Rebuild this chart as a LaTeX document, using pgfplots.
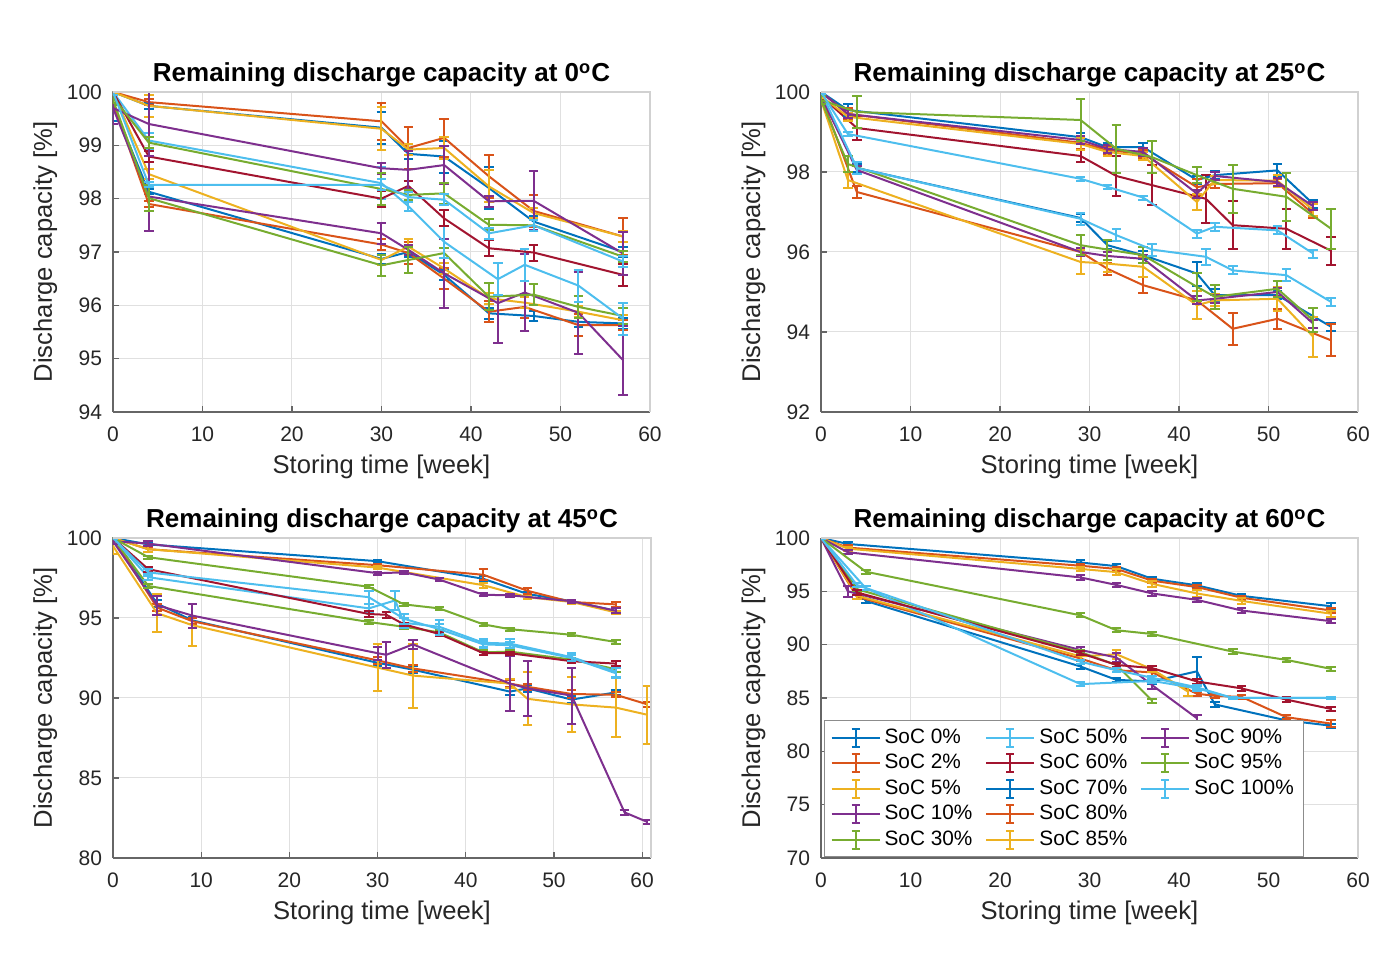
\documentclass[border=0pt]{standalone}
\usepackage{pgfplots}
\pgfplotsset{compat=1.18}
\usepackage{fontspec}
\setmainfont{Liberation Sans}
\definecolor{c1}{rgb}{0,0.447,0.741}
\definecolor{c2}{rgb}{0.85,0.325,0.098}
\definecolor{c3}{rgb}{0.929,0.694,0.125}
\definecolor{c4}{rgb}{0.494,0.184,0.556}
\definecolor{c5}{rgb}{0.466,0.674,0.188}
\definecolor{c6}{rgb}{0.301,0.745,0.933}
\definecolor{c7}{rgb}{0.635,0.078,0.184}
\pgfplotsset{
  ser/.style={draw=#1, line width=1pt, forget plot,
    error bars/.cd, y dir=both, y explicit,
    error bar style={draw=#1, line width=1pt},
    error mark options={rotate=90, draw=#1, mark size=2.4pt, line width=1pt}},
  mystyle/.style={
    scale only axis, width=268.5pt, height=160pt,
    xmin=0, xmax=60, xtick={0,10,...,60},
    grid=major, grid style={draw=black!12, line width=0.5pt},
    axis x line*=bottom, axis y line*=left,
    axis line style={-, draw=black!60, line width=0.6pt},
    tick align=inside, major tick length=3pt, tick style={draw=black!60, line width=0.6pt},
    /pgf/number format/assume math mode=true,
    ticklabel style={font=\fontsize{10.5}{12}\selectfont, text=black!85},
    xticklabel style={anchor=base, yshift=-15pt},
    yticklabel style={anchor=east, xshift=-2pt},
    every axis title/.style={at={(0.5,1)}, anchor=base, yshift=5pt, font=\bfseries\fontsize{13}{14}\selectfont},
    every axis x label/.style={at={(0.5,0)}, anchor=base, yshift=-31pt, font=\fontsize{12.8}{14}\selectfont, text=black!85},
    every axis y label/.style={at={(-0.1136,0.5)}, rotate=90, anchor=base, font=\fontsize{12.8}{14}\selectfont, text=black!85},
    xlabel={Storing time [week]}, ylabel={Discharge capacity [\%]},
    no markers,
    extra description/.code={\draw[black!18, line width=0.6pt] (rel axis cs:0,1) -- (rel axis cs:1,1) -- (rel axis cs:1,0);},
  },
}
\begin{document}
\begin{tikzpicture}
\useasboundingbox (0,0) rectangle (694pt,489pt);
% ---------------- 0 C
\begin{axis}[mystyle, at={(56.5pt,283pt)}, anchor=south west, ymin=94, ymax=100, ytick={94,95,...,100},
  title={Remaining discharge capacity at 0\textsuperscript{o}C}]
\addplot[ser=c1] coordinates {(0,99.75)+-(0,0.3) (4,98.13)+-(0,0.05) (30,96.87)+-(0,0.1) (33,97.0)+-(0,0.1) (37,96.57)+-(0,0.1) (42,95.85)+-(0,0.1) (47,95.8)+-(0,0.1) (52,95.69)+-(0,0.1) (57,95.66)+-(0,0.1)};
\addplot[ser=c2] coordinates {(0,99.8)+-(0,0.15) (4,97.9)+-(0,0.05) (30,97.14)+-(0,0.1) (33,96.98)+-(0,0.2) (37,96.5)+-(0,0.2) (42,95.88)+-(0,0.2) (46,95.97)+-(0,0.2) (52,95.63)+-(0,0.2) (57,95.63)+-(0,0.1)};
\addplot[ser=c3] coordinates {(0,100)+-(0,0.05) (4,98.46)+-(0,0.1) (30,96.85)+-(0,0.1) (33,97.1)+-(0,0.15) (37,96.69)+-(0,0.1) (42,96.13)+-(0,0.1) (46,96.05)+-(0,0.1) (52,95.88)+-(0,0.1) (57,95.72)+-(0,0.1)};
\addplot[ser=c4] coordinates {(0,99.7)+-(0,0.3) (4,98.04)+-(0,0.65) (30,97.35)+-(0,0.2) (33,97.04)+-(0,0.1) (37,96.6)+-(0,0.65) (43,96.04)+-(0,0.75) (46,96.24)+-(0,0.73) (52,95.86)+-(0,0.77) (57,94.97)+-(0,0.65)};
\addplot[ser=c5] coordinates {(0,99.85)+-(0,0.1) (4,98.01)+-(0,0.25) (30,96.75)+-(0,0.2) (33,96.85)+-(0,0.25) (37,96.98)+-(0,0.1) (42,96.16)+-(0,0.25) (47,96.2)+-(0,0.2) (52,95.97)+-(0,0.2) (57,95.8)+-(0,0.15)};
\addplot[ser=c6] coordinates {(0,100)+-(0,0.05) (4,99.09)+-(0,0.15) (30,98.29)+-(0,0.3) (33,97.86)+-(0,0.1) (37,97.19)+-(0,0.3) (43,96.49)+-(0,0.3) (46,96.76)+-(0,0.3) (52,96.37)+-(0,0.3) (57,95.75)+-(0,0.3)};
\addplot[ser=c7] coordinates {(0,100)+-(0,0.05) (4,98.79)+-(0,0.1) (30,98.0)+-(0,0.15) (33,98.24)+-(0,0.1) (37,97.63)+-(0,0.15) (42,97.07)+-(0,0.15) (47,96.99)+-(0,0.15) (57,96.57)+-(0,0.2)};
\addplot[ser=c1] coordinates {(0,100)+-(0,0.05) (4,99.74)+-(0,0.05) (30,99.33)+-(0,0.3) (33,98.84)+-(0,0.1) (37,98.79)+-(0,0.3) (42,98.2)+-(0,0.4) (47,97.57)+-(0,0.1) (57,97.0)+-(0,0.1)};
\addplot[ser=c2] coordinates {(0,100)+-(0,0.05) (4,99.81)+-(0,0.05) (30,99.45)+-(0,0.35) (33,98.95)+-(0,0.4) (37,99.14)+-(0,0.35) (42,98.42)+-(0,0.4) (47,97.77)+-(0,0.3) (57,97.29)+-(0,0.35)};
\addplot[ser=c3] coordinates {(0,100)+-(0,0.05) (4,99.74)+-(0,0.2) (30,99.31)+-(0,0.4) (33,98.92)+-(0,0.1) (37,98.95)+-(0,0.2) (42,98.23)+-(0,0.3) (47,97.73)+-(0,0.1) (57,97.29)+-(0,0.1)};
\addplot[ser=c4] coordinates {(0,99.7)+-(0,0.3) (4,99.4)+-(0,0.6) (30,98.57)+-(0,0.1) (33,98.54)+-(0,0.35) (37,98.63)+-(0,0.35) (42,97.95)+-(0,0.1) (47,97.96)+-(0,0.55) (57,96.97)+-(0,0.4)};
\addplot[ser=c5] coordinates {(0,99.9)+-(0,0.1) (4,99.05)+-(0,0.1) (30,98.18)+-(0,0.3) (33,98.07)+-(0,0.1) (37,98.1)+-(0,0.2) (42,97.51)+-(0,0.1) (47,97.5)+-(0,0.1) (57,96.91)+-(0,0.1)};
\addplot[ser=c6] coordinates {(0,100)+-(0,0.05) (4,98.26)+-(0,0.05) (30,98.26)+-(0,0.1) (33,98.03)+-(0,0.1) (37,97.98)+-(0,0.1) (42,97.35)+-(0,0.1) (47,97.5)+-(0,0.1) (57,96.82)+-(0,0.1)};
\end{axis}
% ---------------- 25 C
\begin{axis}[mystyle, at={(410.5pt,283pt)}, anchor=south west, ymin=92, ymax=100, ytick={92,94,...,100},
  title={Remaining discharge capacity at 25\textsuperscript{o}C}]
\addplot[ser=c1] coordinates {(0,99.9)+-(0,0.1) (4,98.1)+-(0,0.1) (29,96.85)+-(0,0.1) (32,96.17)+-(0,0.1) (36,95.92)+-(0,0.1) (42,95.46)+-(0,0.3) (44,94.92)+-(0,0.15) (51,94.92)+-(0,0.1) (57,94.13)+-(0,0.1)};
\addplot[ser=c2] coordinates {(0,99.9)+-(0,0.05) (4,97.5)+-(0,0.15) (29,96.0)+-(0,0.1) (32,95.58)+-(0,0.15) (36,95.17)+-(0,0.2) (42,94.79)+-(0,0.1) (46,94.08)+-(0,0.4) (51,94.33)+-(0,0.25) (57,93.79)+-(0,0.4)};
\addplot[ser=c3] coordinates {(0,99.8)+-(0,0.1) (3,97.8)+-(0,0.2) (29,95.75)+-(0,0.3) (32,95.71)+-(0,0.2) (36,95.63)+-(0,0.25) (42,94.67)+-(0,0.35) (44,94.79)+-(0,0.15) (51,94.83)+-(0,0.3) (55,93.88)+-(0,0.5)};
\addplot[ser=c4] coordinates {(0,99.9)+-(0,0.05) (4,98.05)+-(0,0.1) (29,96.0)+-(0,0.1) (32,95.9)+-(0,0.1) (36,95.83)+-(0,0.1) (42,94.79)+-(0,0.1) (44,94.83)+-(0,0.1) (51,95.0)+-(0,0.1) (55,94.21)+-(0,0.1)};
\addplot[ser=c5] coordinates {(0,99.8)+-(0,0.1) (3,98.2)+-(0,0.2) (29,96.17)+-(0,0.25) (32,96.06)+-(0,0.25) (36,95.92)+-(0,0.2) (42,95.13)+-(0,0.35) (44,94.88)+-(0,0.3) (51,95.08)+-(0,0.2) (55,94.29)+-(0,0.3)};
\addplot[ser=c6] coordinates {(0,100)+-(0,0.05) (4,98.1)+-(0,0.15) (29,96.83)+-(0,0.15) (33,96.42)+-(0,0.15) (37,96.06)+-(0,0.15) (43,95.88)+-(0,0.2) (46,95.54)+-(0,0.1) (52,95.42)+-(0,0.15) (57,94.75)+-(0,0.1)};
\addplot[ser=c7] coordinates {(0,99.9)+-(0,0.1) (4,99.1)+-(0,0.3) (29,98.4)+-(0,0.15) (33,97.9)+-(0,0.5) (37,97.67)+-(0,0.5) (43,97.33)+-(0,0.6) (46,96.67)+-(0,0.6) (52,96.58)+-(0,0.5) (57,96.03)+-(0,0.35)};
\addplot[ser=c1] coordinates {(0,100)+-(0,0.05) (3,99.55)+-(0,0.15) (29,98.87)+-(0,0.1) (32,98.62)+-(0,0.1) (36,98.62)+-(0,0.1) (42,97.8)+-(0,0.1) (44,97.92)+-(0,0.1) (51,98.04)+-(0,0.15) (55,97.2)+-(0,0.1)};
\addplot[ser=c2] coordinates {(0,100)+-(0,0.05) (3,99.45)+-(0,0.15) (29,98.73)+-(0,0.15) (32,98.55)+-(0,0.1) (36,98.45)+-(0,0.1) (42,97.62)+-(0,0.2) (44,97.7)+-(0,0.1) (51,97.72)+-(0,0.1) (55,96.95)+-(0,0.1)};
\addplot[ser=c3] coordinates {(0,99.9)+-(0,0.05) (3,99.38)+-(0,0.1) (29,98.7)+-(0,0.15) (32,98.5)+-(0,0.1) (36,98.4)+-(0,0.1) (42,97.25)+-(0,0.2) (44,97.8)+-(0,0.1) (51,97.78)+-(0,0.15) (55,97.05)+-(0,0.15)};
\addplot[ser=c4] coordinates {(0,100)+-(0,0.05) (3,99.45)+-(0,0.1) (29,98.8)+-(0,0.1) (32,98.58)+-(0,0.1) (36,98.5)+-(0,0.1) (42,97.46)+-(0,0.1) (44,97.9)+-(0,0.1) (51,97.75)+-(0,0.1) (55,97.14)+-(0,0.1)};
\addplot[ser=c5] coordinates {(0,99.8)+-(0,0.1) (4,99.5)+-(0,0.4) (29,99.3)+-(0,0.52) (33,98.58)+-(0,0.6) (37,98.37)+-(0,0.4) (42,97.92)+-(0,0.2) (46,97.58)+-(0,0.6) (52,97.38)+-(0,0.6) (57,96.58)+-(0,0.5)};
\addplot[ser=c6] coordinates {(0,100)+-(0,0.05) (3,98.95)+-(0,0.05) (29,97.83)+-(0,0.05) (32,97.63)+-(0,0.05) (36,97.36)+-(0,0.05) (42,96.46)+-(0,0.1) (44,96.63)+-(0,0.1) (51,96.54)+-(0,0.1) (55,95.96)+-(0,0.1)};
\end{axis}
% ---------------- 45 C
\begin{axis}[mystyle, at={(56.5pt,60pt)}, anchor=south west, width=269pt, xmax=61, ymin=80, ymax=100, ytick={80,85,...,100},
  title={Remaining discharge capacity at 45\textsuperscript{o}C}]
\addplot[ser=c1] coordinates {(0,100)+-(0,0.05) (5,95.9)+-(0,0.2) (9,94.85)+-(0,0.2) (30,92.2)+-(0,0.2) (34,91.77)+-(0,0.2) (45,90.4)+-(0,0.2) (47,90.6)+-(0,0.2) (52,89.9)+-(0,0.2) (57,90.35)+-(0,0.15)};
\addplot[ser=c2] coordinates {(0,100)+-(0,0.05) (5,95.65)+-(0,0.2) (9,94.8)+-(0,0.2) (30,92.35)+-(0,0.2) (34,91.85)+-(0,0.2) (45,90.9)+-(0,0.2) (47,90.7)+-(0,0.2) (52,90.25)+-(0,0.25) (57,90.2)+-(0,0.15) (60.6,89.6)+-(0,0.15)};
\addplot[ser=c3] coordinates {(0,99.5)+-(0,0.5) (5,95.3)+-(0,1.2) (9,94.55)+-(0,1.3) (30,91.9)+-(0,1.45) (34,91.4)+-(0,2.0) (45,90.9)+-(0,0.3) (47,89.95)+-(0,1.65) (52,89.6)+-(0,1.7) (57,89.4)+-(0,1.85) (60.6,88.95)+-(0,1.8)};
\addplot[ser=c4] coordinates {(0,99.8)+-(0,0.2) (5,95.8)+-(0,0.6) (9,95.15)+-(0,0.75) (30,92.8)+-(0,0.4) (31,92.7)+-(0,0.8) (34,93.35)+-(0,0.3) (45,90.9)+-(0,1.7) (47,90.6)+-(0,1.7) (52,90.15)+-(0,1.75) (58,82.85)+-(0,0.15) (60.6,82.25)+-(0,0.15)};
\addplot[ser=c5] coordinates {(0,100)+-(0,0.05) (4,97.0)+-(0,0.1) (29,94.75)+-(0,0.15) (33,94.45)+-(0,0.15) (37,94.1)+-(0,0.15) (42,92.85)+-(0,0.15) (45,92.9)+-(0,0.1) (52,92.4)+-(0,0.1) (57,91.8)+-(0,0.15)};
\addplot[ser=c6] coordinates {(0,100)+-(0,0.05) (4,97.55)+-(0,0.2) (29,95.6)+-(0,0.3) (32,96.1)+-(0,0.6) (33,94.7)+-(0,0.3) (37,94.45)+-(0,0.4) (42,93.45)+-(0,0.25) (45,93.4)+-(0,0.3) (52,92.55)+-(0,0.25) (57,91.65)+-(0,0.35)};
\addplot[ser=c7] coordinates {(0,100)+-(0,0.05) (4,98.05)+-(0,0.15) (29,95.25)+-(0,0.2) (31,95.2)+-(0,0.2) (33,94.6)+-(0,0.1) (37,94.0)+-(0,0.1) (42,92.8)+-(0,0.1) (45,92.8)+-(0,0.1) (52,92.3)+-(0,0.1) (57,92.15)+-(0,0.15)};
\addplot[ser=c1] coordinates {(0,100)+-(0,0.05) (4,99.6)+-(0,0.1) (30,98.55)+-(0,0.1) (42,97.45)+-(0,0.15) (47,96.5)+-(0,0.1) (52,96.05)+-(0,0.1) (57,95.45)+-(0,0.15)};
\addplot[ser=c2] coordinates {(0,100)+-(0,0.05) (4,99.3)+-(0,0.15) (30,98.3)+-(0,0.1) (42,97.7)+-(0,0.35) (47,96.7)+-(0,0.2) (52,96.0)+-(0,0.1) (57,95.85)+-(0,0.15)};
\addplot[ser=c3] coordinates {(0,100)+-(0,0.05) (4,99.3)+-(0,0.2) (30,98.15)+-(0,0.1) (42,97.05)+-(0,0.15) (47,96.3)+-(0,0.1) (52,96.0)+-(0,0.1) (57,95.35)+-(0,0.1)};
\addplot[ser=c4] coordinates {(0,99.8)+-(0,0.2) (4,99.65)+-(0,0.15) (30,97.8)+-(0,0.1) (33,97.85)+-(0,0.1) (37,97.4)+-(0,0.1) (42,96.45)+-(0,0.1) (45,96.42)+-(0,0.1) (52,96.05)+-(0,0.1) (57,95.45)+-(0,0.15)};
\addplot[ser=c5] coordinates {(0,100)+-(0,0.05) (4,98.8)+-(0,0.1) (29,96.95)+-(0,0.1) (33,95.85)+-(0,0.1) (37,95.6)+-(0,0.1) (42,94.6)+-(0,0.1) (45,94.3)+-(0,0.1) (52,93.95)+-(0,0.1) (57,93.5)+-(0,0.1)};
\addplot[ser=c6] coordinates {(0,100)+-(0,0.05) (4,97.85)+-(0,0.2) (29,96.3)+-(0,0.4) (33,94.95)+-(0,0.3) (37,94.3)+-(0,0.35) (42,93.35)+-(0,0.2) (45,93.3)+-(0,0.2) (52,92.5)+-(0,0.2) (57,91.55)+-(0,0.3)};
\end{axis}
% ---------------- 60 C
\begin{axis}[mystyle, at={(410.5pt,60pt)}, anchor=south west, ymin=70, ymax=100, ytick={70,75,...,100},
  title={Remaining discharge capacity at 60\textsuperscript{o}C},
  legend image code/.code={
    \draw[#1, line width=1pt] (0pt,0pt) -- (24pt,0pt);
    \draw[#1, line width=1pt] (12pt,-4.5pt) -- (12pt,4.5pt);
    \draw[#1, line width=1pt] (10pt,-4.5pt) -- (14pt,-4.5pt);
    \draw[#1, line width=1pt] (10pt,4.5pt) -- (14pt,4.5pt);},
  legend style={at={(0.0056,0.003)}, anchor=south west, draw=black!45, line width=0.6pt, fill=white,
    font=\fontsize{10.4}{12}\selectfont, legend columns=3, legend cell align=left,
    /tikz/every even column/.append style={column sep=4.5pt}}]
\addplot[ser=c1] coordinates {(0,100)+-(0,0.05) (5,94.1)+-(0,0.2) (29,87.95)+-(0,0.25) (33,86.7)+-(0,0.2) (37,86.55)+-(0,0.25) (42,87.5)+-(0,1.3) (44,84.4)+-(0,0.2) (52,82.9)+-(0,0.2) (57,82.4)+-(0,0.2)};
\addplot[ser=c2] coordinates {(0,100)+-(0,0.05) (4,94.5)+-(0,0.2) (29,88.7)+-(0,0.2) (33,87.6)+-(0,0.2) (37,87.4)+-(0,0.3) (42,85.4)+-(0,0.2) (44,85.2)+-(0,0.2) (47,85.1)+-(0,0.2) (52,83.2)+-(0,0.2) (57,82.6)+-(0,0.3)};
\addplot[ser=c3] coordinates {(0,100)+-(0,0.05) (4,94.6)+-(0,0.3) (29,88.9)+-(0,0.3) (33,89.1)+-(0,0.4) (37,87.7)+-(0,0.3) (41,85.6)+-(0,0.4)};
\addplot[ser=c4] coordinates {(0,100)+-(0,0.05) (3,95.0)+-(0,0.5) (29,89.5)+-(0,0.3) (33,88.8)+-(0,0.4) (37,86.2)+-(0,0.4) (42,83.1)+-(0,0.3)};
\addplot[ser=c5] coordinates {(0,100)+-(0,0.05) (4,95.2)+-(0,0.2) (29,89.3)+-(0,0.2) (33,88.1)+-(0,0.2) (37,84.75)+-(0,0.2)};
\addplot[ser=c6] coordinates {(0,100)+-(0,0.05) (5,95.3)+-(0,0.2) (29,86.3)+-(0,0.2) (37,86.6)+-(0,0.2) (42,85.9)+-(0,0.2) (46,85.0)+-(0,0.1) (52,85.0)+-(0,0.1) (57,85.0)+-(0,0.1)};
\addplot[ser=c7] coordinates {(0,100)+-(0,0.05) (4,94.9)+-(0,0.2) (29,89.2)+-(0,0.2) (33,88.1)+-(0,0.2) (37,87.8)+-(0,0.2) (42,86.55)+-(0,0.2) (47,85.9)+-(0,0.2) (52,84.85)+-(0,0.2) (57,83.97)+-(0,0.2)};
\addplot[ser=c1] coordinates {(0,100)+-(0,0.05) (3,99.44)+-(0,0.2) (29,97.7)+-(0,0.2) (33,97.36)+-(0,0.2) (37,96.18)+-(0,0.2) (42,95.56)+-(0,0.2) (47,94.57)+-(0,0.2) (57,93.6)+-(0,0.3)};
\addplot[ser=c2] coordinates {(0,100)+-(0,0.05) (3,99.1)+-(0,0.2) (29,97.4)+-(0,0.2) (33,97.1)+-(0,0.2) (37,96.0)+-(0,0.2) (42,95.4)+-(0,0.2) (47,94.4)+-(0,0.2) (57,93.2)+-(0,0.2)};
\addplot[ser=c3] coordinates {(0,100)+-(0,0.05) (3,99.0)+-(0,0.2) (29,97.1)+-(0,0.2) (33,96.8)+-(0,0.3) (37,95.7)+-(0,0.3) (42,94.8)+-(0,0.3) (47,94.1)+-(0,0.3) (57,92.9)+-(0,0.3)};
\addplot[ser=c4] coordinates {(0,100)+-(0,0.05) (3,98.66)+-(0,0.2) (29,96.3)+-(0,0.2) (33,95.6)+-(0,0.2) (37,94.8)+-(0,0.2) (42,94.2)+-(0,0.2) (47,93.2)+-(0,0.2) (57,92.2)+-(0,0.2)};
\addplot[ser=c5] coordinates {(0,100)+-(0,0.05) (5,96.84)+-(0,0.2) (29,92.75)+-(0,0.2) (33,91.35)+-(0,0.2) (37,91.0)+-(0,0.2) (46,89.35)+-(0,0.2) (52,88.57)+-(0,0.2) (57,87.73)+-(0,0.2)};
\addplot[ser=c6] coordinates {(0,100)+-(0,0.05) (4,95.6)+-(0,0.2) (29,88.4)+-(0,0.2) (33,87.6)+-(0,0.2) (37,86.9)+-(0,0.2) (42,86.0)+-(0,0.2) (46,85.0)+-(0,0.1) (57,85.0)+-(0,0.1)};
\addlegendimage{draw=c1}\addlegendentry{SoC 0\%}
\addlegendimage{draw=c6}\addlegendentry{SoC 50\%}
\addlegendimage{draw=c4}\addlegendentry{SoC 90\%}
\addlegendimage{draw=c2}\addlegendentry{SoC 2\%}
\addlegendimage{draw=c7}\addlegendentry{SoC 60\%}
\addlegendimage{draw=c5}\addlegendentry{SoC 95\%}
\addlegendimage{draw=c3}\addlegendentry{SoC 5\%}
\addlegendimage{draw=c1}\addlegendentry{SoC 70\%}
\addlegendimage{draw=c6}\addlegendentry{SoC 100\%}
\addlegendimage{draw=c4}\addlegendentry{SoC 10\%}
\addlegendimage{draw=c2}\addlegendentry{SoC 80\%}
\addlegendimage{empty legend}\addlegendentry{}
\addlegendimage{draw=c5}\addlegendentry{SoC 30\%}
\addlegendimage{draw=c3}\addlegendentry{SoC 85\%}
\end{axis}
\end{tikzpicture}
\end{document}
